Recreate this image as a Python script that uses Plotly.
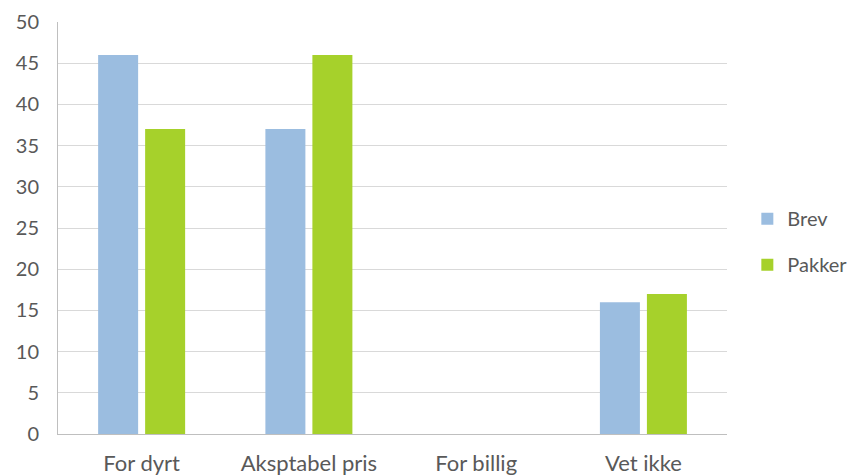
import plotly.graph_objects as go

categories = ["For dyrt", "Aksptabel pris", "For billig", "Vet ikke"]
brev = [46, 37, 0, 16]
pakker = [37, 46, 0, 17]
y_ticks = list(range(0, 55, 5))

font_family = "Lato, Open Sans, sans-serif"
text_color = "#595959"

fig = go.Figure()
fig.add_trace(go.Bar(name="Brev", x=categories, y=brev, marker_color="#9BBDE0",
                     marker_line_width=0, legendgroup="a"))
fig.add_trace(go.Bar(name="Pakker", x=categories, y=pakker, marker_color="#A6D12B",
                     marker_line_width=0, legendgroup="b"))

fig.update_layout(
    width=854, height=476,
    margin=dict(l=58, r=0, t=22, b=42),
    paper_bgcolor="white", plot_bgcolor="white",
    barmode="group", bargap=0.438, bargroupgap=0.149,
    font=dict(family=font_family, size=20, color=text_color),
    legend=dict(x=0.866, y=0.57, xanchor="left", yanchor="top",
                tracegroupgap=17, font=dict(size=20, color=text_color),
                itemwidth=30, traceorder="grouped"),
    showlegend=True,
)
fig.update_xaxes(domain=[0, 0.8405], showline=True, linecolor="#BFBFBF", linewidth=1,
                 ticks="", tickfont=dict(size=22), showgrid=False,
                 ticklabelstandoff=10)
fig.update_yaxes(range=[0, 50], tickvals=y_ticks, showgrid=True, gridcolor="#D9D9D9",
                 gridwidth=1, showline=True, linecolor="#BFBFBF", linewidth=1,
                 zeroline=False, ticks="", ticklabelstandoff=14,
                 tickfont=dict(size=20))

fig.write_html("out.html")
